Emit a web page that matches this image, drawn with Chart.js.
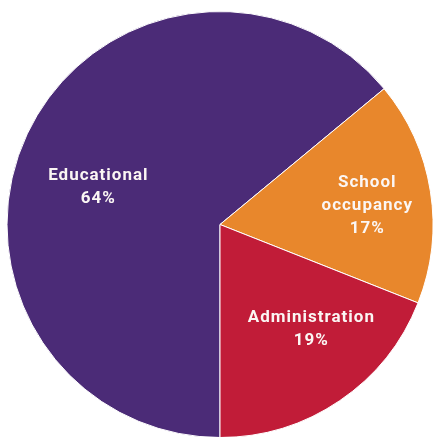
<!DOCTYPE html>
<html>
<head>
<meta charset="utf-8">
<script src="https://cdn.jsdelivr.net/npm/chart.js@4"></script>
<style>
html,body{margin:0;padding:0;background:#fff;}
#wrap{width:433px;height:437px;position:relative;}
</style>
</head>
<body>
<div id="wrap"><canvas id="c"></canvas></div>
<script>
const categories = ["Educational", "School occupancy", "Administration"];
const labelLines = [["Educational"], ["School", "occupancy"], ["Administration"]];
const values = [64, 17, 19];
const colors = ["#4b2b77", "#e8872c", "#c11c38"];

// label placement: fraction along the arc, fraction of radius
const labelPlacement = [
  {along: 0.465, r: 0.60},
  {along: 0.525, r: 0.695},
  {along: 0.40, r: 0.65}
];

const total = values.reduce((a, b) => a + b, 0);

const labelPlugin = {
  id: 'sliceLabels',
  afterDatasetsDraw(chart) {
    const ctx = chart.ctx;
    const meta = chart.getDatasetMeta(0);
    ctx.save();
    ctx.fillStyle = '#fbf6f4';
    ctx.textAlign = 'center';
    ctx.textBaseline = 'middle';
    ctx.font = 'bold 17px Roboto, "Liberation Sans", sans-serif';
    try { ctx.letterSpacing = '1px'; } catch (e) {}
    const lh = 23;
    meta.data.forEach((arc, i) => {
      const p = arc.getProps(['x', 'y', 'startAngle', 'endAngle', 'outerRadius'], true);
      const pl = labelPlacement[i];
      const a = p.startAngle + (p.endAngle - p.startAngle) * pl.along;
      const rr = p.outerRadius * pl.r;
      const cx = p.x + Math.cos(a) * rr;
      const cy = p.y + Math.sin(a) * rr;
      const pct = Math.round(values[i] / total * 100) + '%';
      const lines = labelLines[i].concat([pct]);
      const y0 = cy - (lines.length - 1) * lh / 2;
      lines.forEach((t, k) => ctx.fillText(t, cx + 0.5, y0 + k * lh));
    });
    ctx.restore();
  }
};

new Chart(document.getElementById('c'), {
  type: 'pie',
  data: {
    labels: categories,
    datasets: [{
      data: values,
      backgroundColor: colors,
      borderColor: '#ffffff',
      borderWidth: 1
    }]
  },
  options: {
    responsive: true,
    maintainAspectRatio: false,
    animation: false,
    rotation: 180,
    radius: 213,
    layout: { padding: { left: 7, top: 12, right: 0, bottom: 0 } },
    plugins: {
      legend: { display: false },
      tooltip: { enabled: false }
    }
  },
  plugins: [labelPlugin]
});
</script>
</body>
</html>
